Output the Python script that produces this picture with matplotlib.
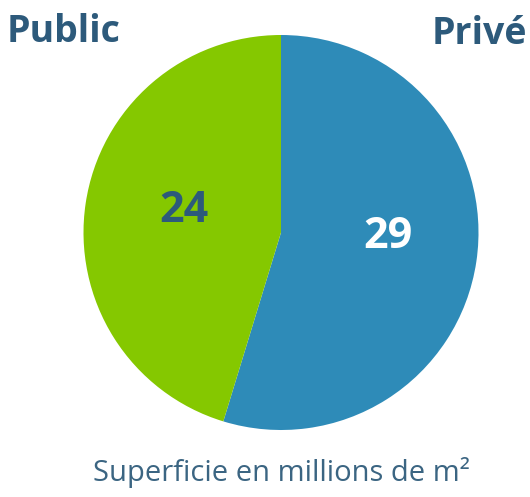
import matplotlib
matplotlib.use('Agg')
import matplotlib.pyplot as plt

# Donnees
secteurs = ['Privé', 'Public']
valeurs = [29, 24]
couleurs = ['#2e8bb8', '#85c800']
couleurs_txt = ['white', '#2d5a7b']

plt.rcParams['font.family'] = ['Open Sans', 'DejaVu Sans']

fig = plt.figure(figsize=(5.30, 4.97), dpi=100)
ax = fig.add_axes([83/530, 1 - 430/497, 396/530, 395/497])

wedges, textos = ax.pie(valeurs, colors=couleurs, startangle=90, counterclock=False,
                        labels=None, labeldistance=None,
                        wedgeprops={'linewidth': 0})
ax.set_xlim(-1, 1)
ax.set_ylim(-1, 1)
ax.set_aspect('equal')

# valeurs dans les parts
posiciones = [(0.54, -0.02), (-0.49, 0.11)]
for v, c, (px, py) in zip(valeurs, couleurs_txt, posiciones):
    ax.text(px, py, str(v), ha='center', va='center', fontsize=31,
            fontweight='bold', color=c)

fig.text(7/530, 1 - 32/497, 'Public', ha='left', va='center', fontsize=27,
         fontweight='bold', color='#2d5a7b')
fig.text(527/530, 1 - 34/497, 'Privé', ha='right', va='center', fontsize=27,
         fontweight='bold', color='#2d5a7b')
fig.text(281/530, 1 - 473/497, 'Superficie en millions de m²', ha='center',
         va='center', fontsize=21, color='#3b6582')

fig.savefig('out.png', dpi=100)
